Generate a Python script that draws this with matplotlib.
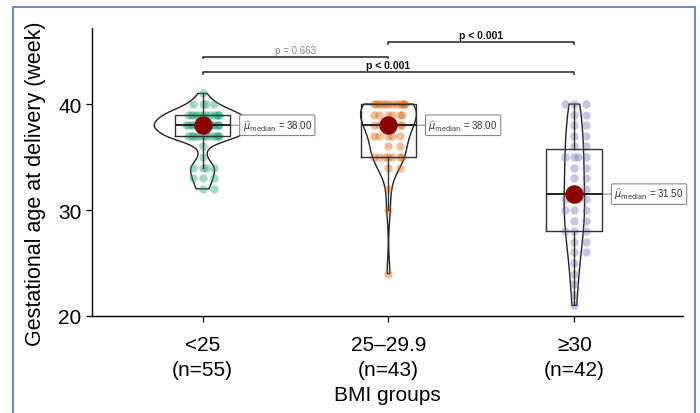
# ==========================================
# LIBRARIES
# ==========================================

import numpy as np
import matplotlib
matplotlib.use("Agg")
import matplotlib.pyplot as plt
from matplotlib.patches import Rectangle

plt.rcParams["font.family"] = ["Liberation Sans", "DejaVu Sans"]


# ==========================================
# DATA (gestational age at delivery, weeks)
# ==========================================

groups = ["<25", "25–29.9", "≥30"]
counts = [55, 43, 42]

bmi_lt25 = ([32] * 2 + [33] * 3 + [34] * 4 + [35] + [36] + [37] * 12
            + [38] * 15 + [39] * 12 + [40] * 4 + [41])
bmi_25_29 = ([24, 30, 32] + [34] * 2 + [35] * 7 + [36] * 2 + [37] * 5
             + [38] * 6 + [39] * 6 + [40] * 12)
bmi_ge30 = [21, 22, 23, 24, 25, 26, 26, 27, 27, 28, 28, 28, 29, 29, 30, 30, 30,
            31, 31, 31, 31, 32, 32, 33, 33, 34, 34, 35, 35, 35, 35, 36, 36,
            37, 37, 38, 38, 39, 39, 40, 40, 40]

medians = [38.00, 38.00, 31.50]

# pairwise comparisons: (group a, group b, label, bold)
p_tests = [(1, 2, "p = 0.663", False),
           (2, 3, "p < 0.001", True),
           (1, 3, "p < 0.001", True)]
p_levels = [44.45, 45.85, 43.0]

colors = ["#1B9E77", "#D95F02", "#7570B3"]
data = [np.array(bmi_lt25, float), np.array(bmi_25_29, float), np.array(bmi_ge30, float)]
pos = [1, 2, 3]


# ==========================================
# DENSITY (R style nrd0 bandwidth)
# ==========================================

def nrd0(v):
    sd = v.std(ddof=1)
    iqr = np.percentile(v, 75) - np.percentile(v, 25)
    return 0.9 * min(sd, iqr / 1.34) * len(v) ** -0.2


def kde(v, grid):
    bw = nrd0(v)
    z = (grid[:, None] - v[None, :]) / bw
    return np.exp(-0.5 * z ** 2).sum(axis=1) / (len(v) * bw * np.sqrt(2 * np.pi))


grids = [np.linspace(v.min(), v.max(), 200) for v in data]
dens = [kde(v, g) for v, g in zip(data, grids)]
half_w = [0.26, 0.15, 0.055]


# ==========================================
# FIGURE
# ==========================================

fig = plt.figure(figsize=(7, 4.14), dpi=100)
ax = fig.add_axes([0.1314, 0.2343, 0.845, 0.6947])

# blue frame around the figure
fig.patches.append(Rectangle((12.5 / 700, -0.05), (694.5 - 12.5) / 700, 1.05 - 7.5 / 414,
                             transform=fig.transFigure, fill=False,
                             edgecolor="#5B86C8", linewidth=1.3))


# ==========================================
# VIOLINS
# ==========================================

for x, g, d, w in zip(pos, grids, dens, half_w):
    hw = d / d.max() * w
    ax.fill_betweenx(g, x - hw, x + hw, facecolor="none",
                     edgecolor="#222222", linewidth=1.0, zorder=1)


# ==========================================
# POINTS (fixed jitter pattern)
# ==========================================

jit = [0.0, 0.06, -0.05, 0.02, -0.08, 0.075, -0.02, 0.09, -0.065, 0.04,
       -0.035, 0.085, -0.09, 0.05, -0.01]

for x, v, c in zip(pos, data, colors):
    seen = {}
    xs = []
    for val in v:
        k = seen.get(val, 0)
        seen[val] = k + 1
        xs.append(x + jit[k % len(jit)])
    ax.scatter(xs, v, s=36, color=c, alpha=0.4, linewidths=0, zorder=2)


# ==========================================
# BOXES
# ==========================================

ax.boxplot(data, positions=pos, widths=0.3, showfliers=False, showcaps=False,
           manage_ticks=False,
           boxprops=dict(color="#333333", linewidth=1.0),
           whiskerprops=dict(color="#333333", linewidth=1.0),
           medianprops=dict(color="#222222", linewidth=1.4),
           zorder=3)


# ==========================================
# MEDIAN POINT + LABEL
# ==========================================

for x, m in zip(pos, medians):
    ax.annotate(r"$\widehat{\mu}_{\mathrm{median}}$ = %.2f" % m,
                xy=(x, m), xytext=(x + 0.215, m),
                ha="left", va="center", fontsize=7, color="#333333",
                bbox=dict(boxstyle="round,pad=0.3,rounding_size=0.15",
                          facecolor="white", edgecolor="#888888", linewidth=0.8),
                arrowprops=dict(arrowstyle="-", color="#999999", linewidth=0.9,
                                shrinkA=0, shrinkB=0),
                zorder=2.5)
    ax.scatter([x], [m], s=150, color="#8B0000", zorder=4)


# ==========================================
# SIGNIFICANCE BRACKETS
# ==========================================

for (a, b, lab, bold), y in zip(p_tests, p_levels):
    ax.plot([a, a, b, b], [y - 0.15, y, y, y - 0.15], color="#333333",
            linewidth=1.2, clip_on=False, zorder=5)
    ax.text((a + b) / 2, y + 0.2, lab, ha="center", va="bottom",
            fontsize=7.5 if bold else 7,
            fontweight="bold" if bold else "normal",
            color="#111111" if bold else "#888888", clip_on=False)


# ==========================================
# AXES
# ==========================================

ax.set_xlim(0.405, 3.587)
ax.set_ylim(20, 47.14)
ax.set_yticks([20, 30, 40])
ax.set_xticks(pos)
ax.set_xticklabels(["%s\n(n=%d)" % (g, n) for g, n in zip(groups, counts)],
                   linespacing=1.45)

ax.spines["top"].set_visible(False)
ax.spines["right"].set_visible(False)
for s in ["left", "bottom"]:
    ax.spines[s].set_linewidth(1.0)

ax.tick_params(axis="both", labelsize=15, width=0.9, length=4.5)
ax.tick_params(axis="x", pad=9)
ax.tick_params(axis="y", pad=3)

ax.set_xlabel("BMI groups", fontsize=15, labelpad=4)
ax.set_ylabel("Gestational age at delivery (week)", fontsize=15.5)
ax.yaxis.set_label_coords(-0.0775, 0.462)


# ==========================================
# SAVE
# ==========================================

plt.savefig("out.png", dpi=100)
